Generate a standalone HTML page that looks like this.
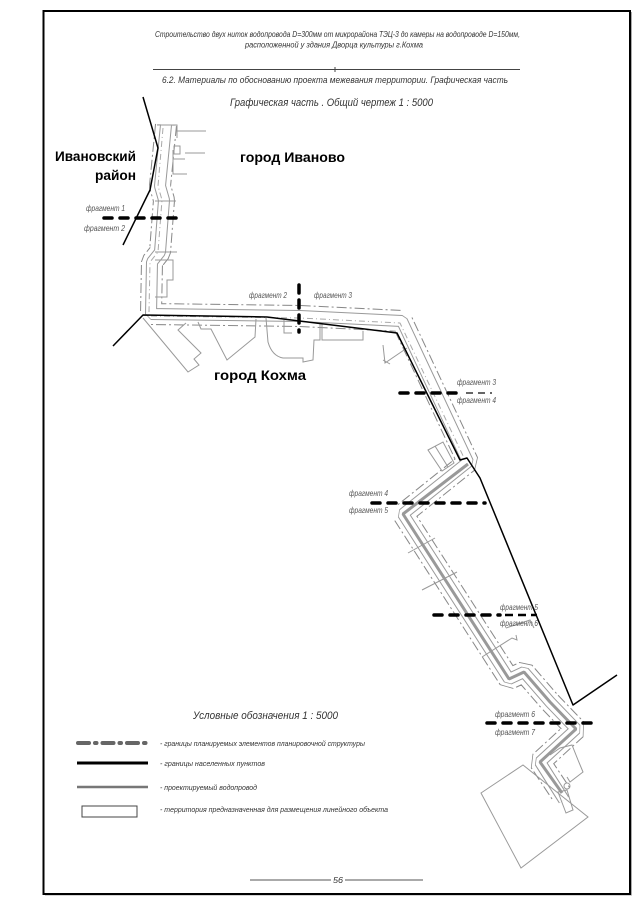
<!DOCTYPE html>
<html><head><meta charset="utf-8"><style>
html,body{margin:0;padding:0;background:#fff;}
svg{display:block;}
text{font-family:"Liberation Sans","DejaVu Sans",sans-serif;}
.it{font-style:italic;fill:#333;}
.fr{font-style:italic;fill:#555;font-size:8px;}
.bd{font-weight:bold;fill:#000;font-size:13.5px;}
</style></head><body>
<svg width="640" height="905" viewBox="0 0 640 905" xmlns="http://www.w3.org/2000/svg">
<rect x="0" y="0" width="640" height="905" fill="#fff"/>
<!-- frame -->
<polyline points="45,895 631.5,895 631.5,12" fill="none" stroke="#aaa" stroke-width="1"/>
<rect x="43.5" y="11" width="586.5" height="883" fill="none" stroke="#000" stroke-width="2"/>

<!-- header -->
<text class="it" x="155" y="37" font-size="8" textLength="365" lengthAdjust="spacingAndGlyphs">Строительство двух ниток водопровода D=300мм от микрорайона ТЭЦ-3 до камеры на водопроводе D=150мм,</text>
<text class="it" x="245" y="47.5" font-size="8" textLength="178" lengthAdjust="spacingAndGlyphs">расположенной у здания Дворца культуры г.Кохма</text>
<line x1="153" y1="69.5" x2="520" y2="69.5" stroke="#444" stroke-width="1"/>
<line x1="335" y1="67" x2="335" y2="72" stroke="#444" stroke-width="1"/>
<text class="it" x="162" y="83" font-size="9" textLength="346" lengthAdjust="spacingAndGlyphs">6.2. Материалы по обоснованию проекта межевания территории. Графическая часть</text>
<text class="it" x="230" y="106" font-size="11" textLength="203" lengthAdjust="spacingAndGlyphs">Графическая часть . Общий чертеж    1 : 5000</text>

<!-- planning boundary dash-dot (both sides) -->
<g fill="none" stroke-linejoin="bevel">
<path d="M166,125 L160,186 L164,200 L160,252 L152,262 L151,314 L300,316 L402,321 L468,462 L403,514 L509,679 L524,672 L550,702 L576,729 L540,762 L562,795" stroke="#888" stroke-width="22" stroke-dasharray="10 3 2 3"/>
<path d="M166,125 L160,186 L164,200 L160,252 L152,262 L151,314 L300,316 L402,321 L468,462 L403,514 L509,679 L524,672 L550,702 L576,729 L540,762 L562,795" stroke="#fff" stroke-width="20"/>
<!-- corridor -->
<path d="M166,125 L160,186 L164,200 L160,252 L152,262 L151,314 L300,316 L402,321 L468,462 L403,514 L509,679 L524,672 L550,702 L576,729 L540,762 L564,800" stroke="#999" stroke-width="12"/>
<path d="M166,125 L160,186 L164,200 L160,252 L152,262 L151,314 L300,316 L402,321 L468,462 L403,514 L509,679 L524,672 L550,702 L576,729 L540,762 L564,800" stroke="#fff" stroke-width="10"/>
<!-- inner dashed lines -->
<path d="M163,128 L158,186 L162,200 L158,252 L150,262 L149,312" stroke="#aaa" stroke-width="1" stroke-dasharray="6 3 1 3"/>
<path d="M151,316 L300,318 L400,323 L466,462" stroke="#aaa" stroke-width="1" stroke-dasharray="6 3 1 3"/>
<!-- pipe -->
<path d="M468,464 L403,514 L509,679 L524,672 L550,702 L576,729 L540,762 L562,793" stroke="#999" stroke-width="3"/>
</g>

<!-- buildings -->
<g fill="none" stroke="#999" stroke-width="1">
<polyline points="157,125 177,125 177,138"/>
<line x1="177" y1="131" x2="206" y2="131"/>
<rect x="174" y="146" width="6" height="8"/>
<polyline points="185,153 205,153"/>
<polyline points="173,150 173,174 187,174"/>
<line x1="173" y1="159" x2="185" y2="159"/>
<line x1="155" y1="201" x2="176" y2="201"/>
<line x1="155" y1="252" x2="177" y2="252"/>
<polyline points="155,260 173,260 173,280 167,280 167,297 155,297"/>
<!-- Kokhma -->
<polyline points="143,318 188,372 199,365 194,359 201,353 178,330 186,323"/>
<polyline points="198,322 201,329 211,329 227,360 255,337 256,319"/>
<path d="M266,318 L268,342 Q272,356 283,358 L303,358 L303,362 L313,360 L314,340 L320,340 L320,324"/>
<polyline points="284,320 284,333 292,333"/>
<polyline points="322,324 322,340 363,340 363,331"/>
<polyline points="383,345 385,363 407,348"/>
<!-- middle -->
<polygon points="428,450 443,442 454,463 442,471"/>
<line x1="435" y1="446" x2="448" y2="467"/>
<polyline points="383,360 390,364"/>
<line x1="408" y1="553" x2="435" y2="538"/>
<line x1="422" y1="590" x2="457" y2="572"/>
<polyline points="482,657 512,638 517,640 516,635"/>
<polyline points="506,628 530,620 534,628"/>
<!-- lower -->
<polygon points="481,793 523,765 588,817 521,868"/>
<polyline points="550,755 560,748 572,745 578,760 583,772 570,782 567,777"/>
<polygon points="558,792 567,790 573,810 566,813"/>
<circle cx="567" cy="786" r="3"/>
</g>

<!-- settlement boundaries -->
<g fill="none" stroke="#000" stroke-width="1.5" stroke-linejoin="round">
<polyline points="143,97 158,148 150,190 123,245"/>
<polyline points="113,346 143,315 267,317 397,333 460,460 467,458 480,478 573,705 617,675"/>
</g>

<!-- fragment dividers -->
<g fill="none" stroke="#000" stroke-linecap="round">
<line x1="104" y1="218" x2="180" y2="218" stroke-width="3.5" stroke-dasharray="8 8"/>
<line x1="299" y1="285" x2="299" y2="332" stroke-width="3.5" stroke-dasharray="8 7"/>
<line x1="400" y1="393" x2="458" y2="393" stroke-width="3.5" stroke-dasharray="8 8"/>
<line x1="466" y1="393" x2="492" y2="393" stroke-width="1.5" stroke-dasharray="7 5" stroke-linecap="butt" stroke="#333"/>
<line x1="372" y1="503" x2="485" y2="503" stroke-width="3.5" stroke-dasharray="8 8"/>
<line x1="434" y1="615" x2="500" y2="615" stroke-width="3.5" stroke-dasharray="8 8"/>
<line x1="505" y1="615" x2="537" y2="615" stroke-width="2.5" stroke-dasharray="8 5" stroke-linecap="butt"/>
<line x1="487" y1="723" x2="592" y2="723" stroke-width="3.5" stroke-dasharray="8 8"/>
</g>

<!-- fragment labels -->
<text class="fr" x="86" y="211" textLength="39" lengthAdjust="spacingAndGlyphs">фрагмент 1</text>
<text class="fr" x="84" y="231" textLength="41" lengthAdjust="spacingAndGlyphs">фрагмент 2</text>
<text class="fr" x="249" y="298" textLength="38" lengthAdjust="spacingAndGlyphs">фрагмент 2</text>
<text class="fr" x="314" y="298" textLength="38" lengthAdjust="spacingAndGlyphs">фрагмент 3</text>
<text class="fr" x="457" y="385" textLength="39" lengthAdjust="spacingAndGlyphs">фрагмент 3</text>
<text class="fr" x="457" y="403" textLength="39" lengthAdjust="spacingAndGlyphs">фрагмент 4</text>
<text class="fr" x="349" y="496" textLength="39" lengthAdjust="spacingAndGlyphs">фрагмент 4</text>
<text class="fr" x="349" y="513" textLength="39" lengthAdjust="spacingAndGlyphs">фрагмент 5</text>
<text class="fr" x="500" y="610" textLength="38" lengthAdjust="spacingAndGlyphs">фрагмент 5</text>
<text class="fr" x="500" y="626" textLength="38" lengthAdjust="spacingAndGlyphs">фрагмент 6</text>
<text class="fr" x="495" y="717" textLength="40" lengthAdjust="spacingAndGlyphs">фрагмент 6</text>
<text class="fr" x="495" y="735" textLength="40" lengthAdjust="spacingAndGlyphs">фрагмент 7</text>

<!-- area labels -->
<text class="bd" x="55" y="161" textLength="81" lengthAdjust="spacingAndGlyphs">Ивановский</text>
<text class="bd" x="95" y="180" textLength="41" lengthAdjust="spacingAndGlyphs">район</text>
<text class="bd" x="240" y="162" textLength="105" lengthAdjust="spacingAndGlyphs">город Иваново</text>
<text class="bd" x="214" y="380" textLength="92" lengthAdjust="spacingAndGlyphs">город Кохма</text>

<!-- legend -->
<text class="it" x="193" y="719" font-size="11" textLength="145" lengthAdjust="spacingAndGlyphs">Условные обозначения    1 : 5000</text>
<line x1="78" y1="743" x2="148" y2="743" stroke="#666" stroke-width="4" stroke-linecap="round" stroke-dasharray="11 6 1.5 6"/>
<line x1="77" y1="763" x2="148" y2="763" stroke="#000" stroke-width="3"/>
<line x1="77" y1="787" x2="148" y2="787" stroke="#777" stroke-width="2.5"/>
<rect x="82" y="806" width="55" height="11" fill="none" stroke="#444" stroke-width="1"/>
<text class="it" x="160" y="746" font-size="7.5" textLength="205" lengthAdjust="spacingAndGlyphs">- границы планируемых элементов планировочной структуры</text>
<text class="it" x="160" y="766" font-size="7.5" textLength="105" lengthAdjust="spacingAndGlyphs">- границы населенных пунктов</text>
<text class="it" x="160" y="790" font-size="7.5" textLength="97" lengthAdjust="spacingAndGlyphs">- проектируемый водопровод</text>
<text class="it" x="160" y="812" font-size="7.5" textLength="228" lengthAdjust="spacingAndGlyphs">- территория предназначенная для размещения линейного объекта</text>

<!-- page number -->
<line x1="250" y1="880" x2="331" y2="880" stroke="#555" stroke-width="1"/>
<line x1="345" y1="880" x2="423" y2="880" stroke="#555" stroke-width="1"/>
<text class="it" x="333" y="883" font-size="8" textLength="10" lengthAdjust="spacingAndGlyphs">56</text>
</svg>
</body></html>
